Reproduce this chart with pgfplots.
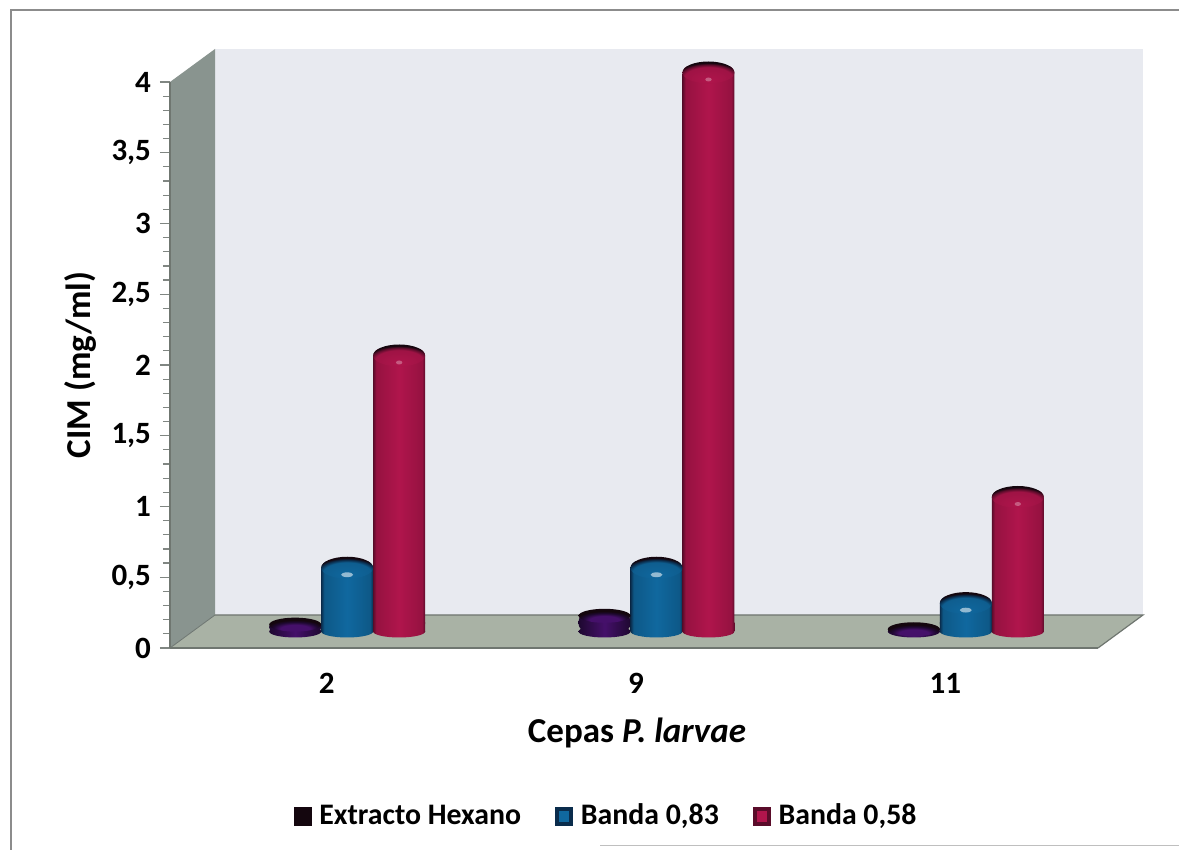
\documentclass[border=0pt]{standalone}
\usepackage{fontspec}
\setmainfont{Carlito}
\usepackage{pgfplots}
\pgfplotsset{compat=1.18}

\definecolor{wallback}{HTML}{E8EAF0}
\definecolor{wallside}{HTML}{89948F}
\definecolor{wallfloor}{HTML}{A9B2A5}
\definecolor{rimline}{HTML}{6F7670}
\definecolor{tickgrey}{HTML}{808682}
\definecolor{capdark}{HTML}{14060E}
\definecolor{rededge}{HTML}{5A0C2A}
\definecolor{redmid}{HTML}{B0154C}
\definecolor{blueedge}{HTML}{0A2C4C}
\definecolor{bluemid}{HTML}{10689F}
\definecolor{plumedge}{HTML}{1E0830}
\definecolor{plummid}{HTML}{45106A}

% Cylinder bodies: thin dark rims around a nearly flat colour
\pgfdeclarehorizontalshading{redbody}{100bp}{color(0bp)=(rededge); color(25bp)=(rededge); color(28bp)=(redmid!85!black); color(50bp)=(redmid); color(72bp)=(redmid!85!black); color(75bp)=(rededge); color(100bp)=(rededge)}
\pgfdeclarehorizontalshading{bluebody}{100bp}{color(0bp)=(blueedge); color(25bp)=(blueedge); color(28bp)=(bluemid!85!black); color(50bp)=(bluemid); color(72bp)=(bluemid!85!black); color(75bp)=(blueedge); color(100bp)=(blueedge)}
\pgfdeclarehorizontalshading{plumbody}{100bp}{color(0bp)=(plumedge); color(25bp)=(plumedge); color(50bp)=(plummid); color(75bp)=(plumedge); color(100bp)=(plumedge)}
% Domed tops: body colour below, a near-black crescent along the crown
\pgfdeclareradialshading{redcap}{\pgfpoint{0bp}{-20bp}}{color(0bp)=(redmid); color(23bp)=(redmid!90!black); color(27bp)=(rededge); color(30bp)=(capdark); color(50bp)=(capdark)}
\pgfdeclareradialshading{bluecap}{\pgfpoint{0bp}{-20bp}}{color(0bp)=(bluemid); color(23bp)=(bluemid!90!black); color(27bp)=(blueedge); color(30bp)=(capdark); color(50bp)=(capdark)}
\pgfdeclareradialshading{plumcap}{\pgfpoint{0bp}{-20bp}}{color(0bp)=(plummid); color(14bp)=(plummid); color(21bp)=(plumedge); color(26bp)=(capdark); color(50bp)=(capdark)}

\newcommand{\declarecap}[4]{% name, shading, centre offset, half height
  \pgfdeclareplotmark{#1}{%
    \pgfpathellipse{\pgfqpoint{0pt}{#3}}{\pgfqpoint{13pt}{0pt}}{\pgfqpoint{0pt}{#4}}%
    \pgfshadepath{#2}{0}\pgfusepath{discard}}}
% Round foot of a tall cylinder, with a collar that squares off the body's lower corners
\newcommand{\declarebase}[2]{%
  \pgfdeclareplotmark{#1}{%
    \pgfpathellipse{\pgfqpoint{0pt}{0pt}}{\pgfqpoint{13pt}{0pt}}{\pgfqpoint{0pt}{3pt}}%
    \pgfshadepath{#2}{0}\pgfusepath{discard}%
    \pgfpathrectangle{\pgfqpoint{-13pt}{0pt}}{\pgfqpoint{26pt}{4.5pt}}%
    \pgfshadepath{#2}{0}\pgfusepath{discard}}}
\declarecap{capred}{redcap}{-3.5pt}{5.5pt}
\declarecap{capblue}{bluecap}{-3.5pt}{5.5pt}
\declarecap{capplum}{plumcap}{-1pt}{3.5pt}
\declarebase{basered}{redbody}
\declarebase{baseblue}{bluebody}
\pgfdeclareplotmark{baseplum}{%
  \pgfpathellipse{\pgfqpoint{0pt}{0pt}}{\pgfqpoint{13pt}{0pt}}{\pgfqpoint{0pt}{3pt}}%
  \pgfshadepath{plumbody}{0}\pgfusepath{discard}}
% Small specular spots on the domes
\pgfdeclareplotmark{glintblue}{%
  \pgfpathellipse{\pgfqpoint{0pt}{-7pt}}{\pgfqpoint{3pt}{0pt}}{\pgfqpoint{0pt}{1.2pt}}%
  \pgfsetfillcolor{white}\pgfsetfillopacity{0.55}\pgfusepath{fill}}
\pgfdeclareplotmark{glintred}{%
  \pgfpathellipse{\pgfqpoint{0pt}{-7pt}}{\pgfqpoint{1.6pt}{0pt}}{\pgfqpoint{0pt}{1pt}}%
  \pgfsetfillcolor{white}\pgfsetfillopacity{0.3}\pgfusepath{fill}}

% One cylinder: x, value, body shading, base mark, cap mark, corner radius
\newcommand{\cylinder}[6]{%
  \addplot[ybar, bar width=26pt, bar shift=0pt, draw=none, shade, shading=#3, rounded corners=#6, forget plot]
    coordinates {(#1,#2)};
  \addplot[only marks, mark=#4, forget plot] coordinates {(#1,0)};
  \addplot[only marks, mark=#5, forget plot] coordinates {(#1,#2)};
}
\newcommand{\swatch}[2]{%
  \fill[#1] (0pt,-4.5pt) rectangle (8.5pt,4.5pt);
  \fill[#2] (2pt,-2.5pt) rectangle (6.5pt,2.5pt);}

\begin{document}
\begin{tikzpicture}
\path[use as bounding box] (0,0) rectangle (589.5pt,425pt);
% Page frame and the 3D walls behind the plot
\begin{scope}[x=0.5pt,y=-0.5pt,yshift=425pt]
  \fill[white] (0,0) rectangle (1179,850);
  \draw[black!45,line width=0.7pt] (11,850) -- (11,10) -- (1179,10);
  \draw[black!25,line width=0.5pt] (600,846) -- (1179,846);
  \fill[wallback] (215,49) rectangle (1143,615);
  \fill[wallside] (170,82) -- (215,49) -- (215,615) -- (170,648) -- cycle;
  \fill[wallfloor] (170,648) -- (215,615) -- (1143,615) -- (1098,648) -- cycle;
  \draw[rimline,line width=0.6pt] (215,615) -- (1143,615) -- (1098,648);
  \draw[wallside!80!black,line width=0.4pt] (215,615) -- (170,648);
\end{scope}

% Value axis and category axis
\begin{axis}[
  at={(85pt,101pt)}, anchor=south west,
  scale only axis, width=464pt, height=283pt,
  xmin=0, xmax=3, ymin=0, ymax=4,
  axis x line*=bottom, axis y line*=left,
  axis line style={rimline,line width=0.6pt,-},
  xtick={0.5,1.5,2.5}, xticklabels={2,9,11},
  x tick style={draw=none},
  ytick={0,0.5,...,4}, minor y tick num=4,
  y tick style={tickgrey,line width=0.6pt},
  tick align=outside,
  major tick length=5pt, minor tick length=3.5pt,
  /pgf/number format/use comma,
  /pgf/number format/assume math mode=true,
  tick label style={font=\fontsize{15.5}{17}\selectfont\bfseries, text=black},
  xticklabel style={yshift=-4pt,xshift=1pt},
  yticklabel style={xshift=-1pt},
  xlabel={Cepas \textit{P. larvae}},
  ylabel={CIM (mg/ml)},
  label style={font=\fontsize{17.5}{19}\selectfont\bfseries, text=black},
  xlabel style={at={(axis description cs:0.5,0)},anchor=center,yshift=-42.5pt,xshift=1.5pt},
  ylabel style={at={(axis description cs:0,0.5)},anchor=center,yshift=45pt},
]
\end{axis}

% Cylinders stand halfway into the depth of the floor
\begin{axis}[
  at={(96.25pt,109.25pt)}, anchor=south west,
  scale only axis, width=464pt, height=283pt,
  xmin=0, xmax=3, ymin=0, ymax=4,
  hide axis, clip=false,
  legend style={
    at={(axis description cs:0.4456,-0.3260)}, anchor=center,
    draw=none, fill=none, inner sep=0pt,
    legend columns=3,
    /tikz/every even column/.append style={column sep=16pt},
    /tikz/every odd column/.append style={column sep=3pt},
    font=\fontsize{14.9}{17}\selectfont\bfseries,
    nodes={inner sep=1pt},
  },
]
% Extracto Hexano
\cylinder{0.332}{0.0625}{plumbody}{baseplum}{capplum}{2pt}
\cylinder{1.332}{0.125}{plumbody}{baseplum}{capplum}{4pt}
\cylinder{2.332}{0.03}{plumbody}{baseplum}{capplum}{1pt}
% Banda 0,83
\cylinder{0.5}{0.5}{bluebody}{baseblue}{capblue}{4pt}
\cylinder{1.5}{0.5}{bluebody}{baseblue}{capblue}{4pt}
\cylinder{2.5}{0.25}{bluebody}{baseblue}{capblue}{4pt}
\addplot[only marks, mark=glintblue, forget plot] coordinates {(0.5,0.5) (1.5,0.5) (2.5,0.25)};
% Banda 0,58
\cylinder{0.668}{2}{redbody}{basered}{capred}{4pt}
\cylinder{1.668}{4}{redbody}{basered}{capred}{4pt}
\cylinder{2.668}{1}{redbody}{basered}{capred}{4pt}
\addplot[only marks, mark=glintred, forget plot] coordinates {(0.668,2) (1.668,4) (2.668,1)};

\addlegendimage{legend image code/.code={\swatch{capdark}{capdark}}}
\addlegendentry{Extracto Hexano}
\addlegendimage{legend image code/.code={\swatch{blueedge}{bluemid}}}
\addlegendentry{Banda 0,83}
\addlegendimage{legend image code/.code={\swatch{rededge}{redmid}}}
\addlegendentry{Banda 0,58}
\end{axis}
\end{tikzpicture}
\end{document}
